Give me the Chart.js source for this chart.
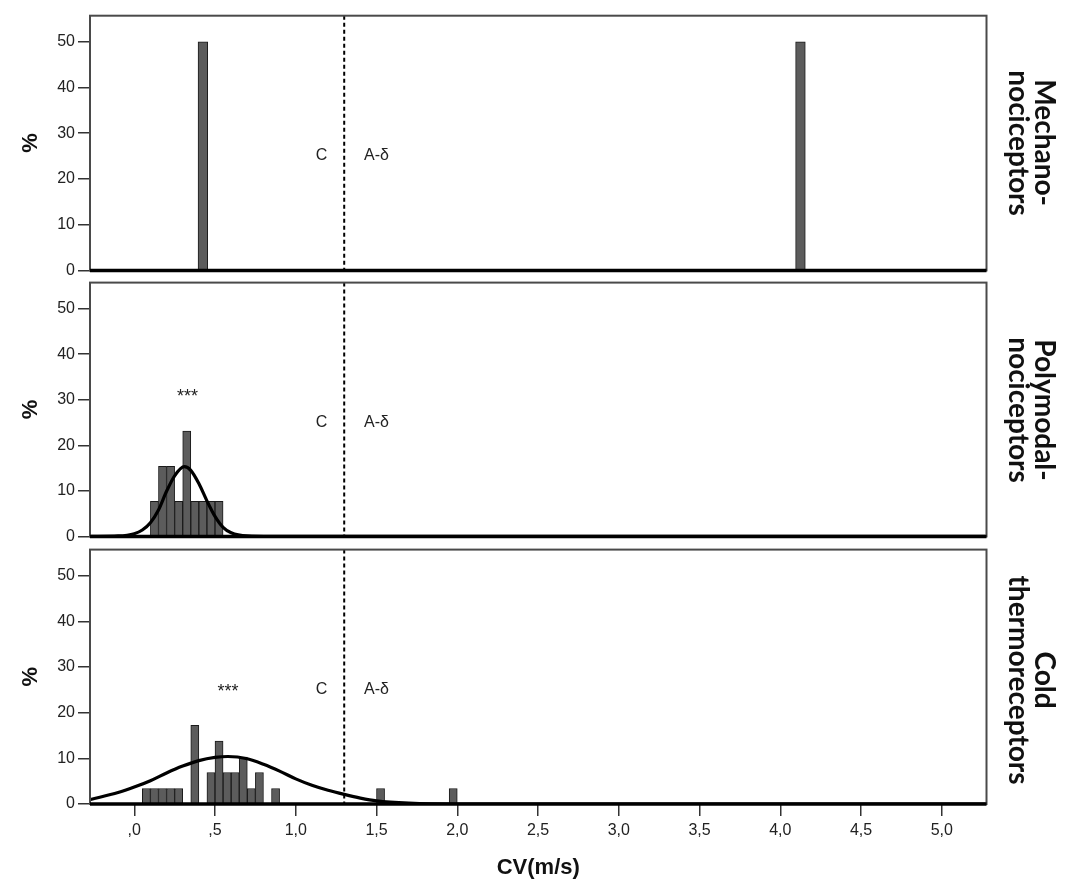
<!DOCTYPE html>
<html>
<head>
<meta charset="utf-8">
<script src="https://cdn.jsdelivr.net/npm/chart.js"></script>
<style>
  html, body { margin: 0; padding: 0; background: #fff; }
  body { width: 1083px; height: 884px; position: relative; overflow: hidden; }
  canvas { position: absolute; left: 0; }
  .side {
    position: absolute;
    writing-mode: vertical-rl;
    font-family: Lato, "Noto Sans", sans-serif;
    font-weight: 700;
    font-size: 28px;
    line-height: 26px;
    text-align: center;
    color: #111;
    white-space: nowrap;
    transform: translate(-50%, -50%);
  }
</style>
</head>
<body>
<canvas id="c1" width="1083" height="283" style="top:0px"></canvas>
<canvas id="c2" width="1083" height="279" style="top:270px"></canvas>
<canvas id="c3" width="1083" height="347" style="top:537px"></canvas>
<div class="side" style="left:1033px; top:143px">Mechano-<br>nociceptors</div>
<div class="side" style="left:1033px; top:410px">Polymodal-<br>nociceptors</div>
<div class="side" style="left:1033px; top:680px">Cold<br>thermoreceptors</div>
<script>
// ---------- data ----------
const panelNames = ['Mechano-nociceptors', 'Polymodal-nociceptors', 'Cold thermoreceptors'];

// histogram bins (bin centres, m/s) and percentages
const mechBins = [0.425, 4.125];
const mechPct  = [50, 50];

const polyBins = [0.125, 0.175, 0.225, 0.275, 0.325, 0.375, 0.425, 0.475, 0.525];
const polyPct  = [7.7, 15.4, 15.4, 7.7, 23.1, 7.7, 7.7, 7.7, 7.7];

const coldBins = [0.075, 0.125, 0.175, 0.225, 0.275, 0.375, 0.475, 0.525, 0.575, 0.625, 0.675, 0.725, 0.775, 0.875, 1.525, 1.975];
const coldPct  = [3.4, 3.4, 3.4, 3.4, 3.4, 17.2, 6.9, 13.8, 6.9, 6.9, 10.3, 3.4, 6.9, 3.4, 3.4, 3.4];

// fitted normal curves
const polyCurveX = [-0.27, -0.1, 0.0, 0.05, 0.1, 0.15, 0.2, 0.25, 0.31, 0.35, 0.4, 0.45, 0.5, 0.55, 0.6, 0.7, 0.85, 5.27];
const polyCurveY = [0.0, 0.1, 0.6, 1.4, 3.0, 5.8, 9.9, 13.3, 15.3, 14.5, 11.6, 7.8, 4.4, 2.0, 0.8, 0.1, 0.0, 0.0];

const coldCurveX = [-0.27, -0.1, 0.0, 0.1, 0.2, 0.3, 0.4, 0.5, 0.58, 0.7, 0.8, 0.9, 1.0, 1.1, 1.2, 1.3, 1.4, 1.5, 1.7, 2.0, 5.27];
const coldCurveY = [1.0, 2.5, 3.7, 5.1, 6.8, 8.3, 9.5, 10.2, 10.4, 9.9, 8.7, 7.2, 5.5, 4.1, 3.0, 2.1, 1.3, 0.7, 0.2, 0.0, 0.0];

// axes
const xMin = -0.274, xMax = 5.277, xStep = 0.5;
const yMin = 0, yMax = 55.7, yStep = 10;
const xTickValues = [0, 0.5, 1.0, 1.5, 2.0, 2.5, 3.0, 3.5, 4.0, 4.5, 5.0];

// annotations
const boundaryCV = 1.3;
const cLabel = { text: 'C', x: 1.16, y: 25 };
const adLabel = { text: 'A-δ', x: 1.5, y: 25 };
const polyStars = { text: '***', x: 0.33, y: 31.5 };
const coldStars = { text: '***', x: 0.58, y: 25.3 };

const mechBinWidth = 0.06;
const binWidth = 0.05;

// ---------- helpers ----------
const fmtX = v => {
  const s = Number(v).toFixed(1).replace('.', ',');
  return s.startsWith('0') ? s.slice(1) : s;
};
const pts = (xs, ys) => xs.map((x, i) => ({ x, y: ys[i] }));

const annotPlugin = {
  id: 'annot',
  afterDatasetsDraw(chart, args, opts) {
    const { ctx, chartArea: a, scales: { x, y } } = chart;
    ctx.save();
    // dashed C / A-delta boundary
    const bx = x.getPixelForValue(boundaryCV);
    ctx.setLineDash([4, 3]);
    ctx.lineWidth = 2;
    ctx.strokeStyle = '#000';
    ctx.beginPath();
    ctx.moveTo(bx, a.top);
    ctx.lineTo(bx, a.bottom);
    ctx.stroke();
    ctx.setLineDash([]);
    // labels
    ctx.font = '16px "Liberation Sans", Arial, sans-serif';
    ctx.fillStyle = '#222';
    ctx.textAlign = 'center';
    ctx.textBaseline = 'middle';
    ctx.fillText(cLabel.text, x.getPixelForValue(cLabel.x), y.getPixelForValue(cLabel.y));
    ctx.fillText(adLabel.text, x.getPixelForValue(adLabel.x), y.getPixelForValue(adLabel.y));
    if (opts && opts.stars) {
      ctx.font = '18px "Liberation Sans", Arial, sans-serif';
      ctx.fillText(opts.stars.text, x.getPixelForValue(opts.stars.x), y.getPixelForValue(opts.stars.y) + 4);
    }
    // frame
    ctx.strokeStyle = '#4a4a4a';
    ctx.lineWidth = 2;
    ctx.strokeRect(a.left, a.top, a.right - a.left, a.bottom - a.top);
    // thick baseline
    ctx.strokeStyle = '#000';
    ctx.lineWidth = 3.5;
    ctx.beginPath();
    ctx.moveTo(a.left, a.bottom);
    ctx.lineTo(a.right, a.bottom);
    ctx.stroke();
    ctx.restore();
  }
};

function makePanel(id, bins, pct, curveX, curveY, stars, showX, padTop, padBottom, bw) {
  const datasets = [];
  if (curveX) {
    datasets.push({
      type: 'line',
      data: pts(curveX, curveY),
      borderColor: '#000',
      borderWidth: 3.2,
      pointRadius: 0,
      cubicInterpolationMode: 'monotone',
      fill: false,
      order: 0
    });
  }
  datasets.push({
    type: 'bar',
    data: pts(bins, pct),
    backgroundColor: '#5c5c5c',
    borderColor: '#1a1a1a',
    borderWidth: 1,
    borderSkipped: 'start',
    barPercentage: 1,
    categoryPercentage: 1,
    grouped: false,
    order: 1
  });
  const chart = new Chart(document.getElementById(id), {
    type: 'bar',
    data: { datasets },
    options: {
      responsive: false,
      animation: false,
      layout: { padding: { left: 0, right: 96.5, top: padTop, bottom: padBottom } },
      plugins: {
        legend: { display: false },
        tooltip: { enabled: false },
        annot: { stars }
      },
      scales: {
        x: {
          type: 'linear',
          display: showX,
          offset: false,
          min: xMin, max: xMax,
          afterBuildTicks: s => { s.ticks = xTickValues.map(v => ({ value: v })); },
          afterFit: s => { if (showX) s.height = 80; },
          ticks: {
            stepSize: xStep,
            includeBounds: false,
            autoSkip: false,
            maxRotation: 0,
            callback: v => fmtX(v),
            font: { family: '"Liberation Sans", Arial, sans-serif', size: 16 },
            color: '#222',
            padding: 5
          },
          grid: { offset: false, drawOnChartArea: false, drawTicks: true, tickLength: 12, color: '#333', lineWidth: 1.5 },
          border: { display: false },
          title: {
            display: true,
            text: 'CV(m/s)',
            color: '#111',
            font: { family: '"Liberation Sans", Arial, sans-serif', size: 22, weight: 'bold' },
            padding: { top: 0, bottom: 3 }
          }
        },
        y: {
          min: yMin, max: yMax,
          afterFit: s => { s.width = 90; },
          ticks: {
            stepSize: yStep,
            includeBounds: false,
            font: { family: '"Liberation Sans", Arial, sans-serif', size: 16 },
            color: '#222',
            padding: 3
          },
          grid: { drawOnChartArea: false, drawTicks: true, tickLength: 12, color: '#333', lineWidth: 1.5 },
          border: { display: false },
          title: {
            display: true,
            text: '%',
            color: '#111',
            font: { family: '"Liberation Sans", Arial, sans-serif', size: 22, weight: 'bold' },
            padding: { top: 18, bottom: 0 }
          }
        }
      }
    },
    plugins: [annotPlugin]
  });
  // bar width = one histogram bin, measured through the x scale
  const sx = chart.scales.x;
  const barDs = chart.data.datasets[chart.data.datasets.length - 1];
  barDs.barThickness = sx.getPixelForValue(bw) - sx.getPixelForValue(0);
  chart.update('none');
  return chart;
}

// canvas tops: 0, 270, 537 -> chart areas 15.7-271, 282.3-537, 549-804
makePanel('c1', mechBins, mechPct, null, null, null, false, 15.7, 12, mechBinWidth);
makePanel('c2', polyBins, polyPct, polyCurveX, polyCurveY, polyStars, false, 12.3, 12, binWidth);
makePanel('c3', coldBins, coldPct, coldCurveX, coldCurveY, coldStars, true, 12, 0, binWidth);
</script>
</body>
</html>
